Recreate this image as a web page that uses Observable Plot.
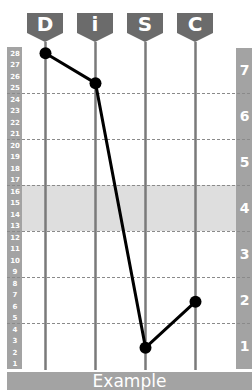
<!DOCTYPE html>
<html><head><meta charset="utf-8">
<script src="https://cdn.jsdelivr.net/npm/d3@7"></script>
<script src="https://cdn.jsdelivr.net/npm/@observablehq/plot@0.6"></script>
<style>
body{margin:0;background:#fff;width:252px;overflow:hidden}
#footer{margin-left:7px;height:18px;background:#a3a3a3;color:#fff;font:17px "DejaVu Sans",sans-serif;text-align:center;line-height:18px;overflow:hidden}
</style></head><body>
<div id="chart"></div>
<div id="footer">Example</div>
<script>
const categories = ["D","i","S","C"];
const scores = [28, 25.4, 2.4, 6.4];
const levels = d3.range(1, 29);
const segmentLabels = [1,2,3,4,5,6,7];
const segmentCenters = [2.5, 6.5, 10.5, 14.5, 18.5, 22.5, 26.5];
const segmentBounds = [4.5, 8.5, 12.5, 16.5, 20.5, 24.5];
const highlight = [{y1: 12.5, y2: 16.5}];

const data = categories.map((c, i) => ({cat: c, v: scores[i]}));

const strips = (index, scales, values, dim) => {
  const g = d3.create("svg:g");
  const yTop = scales.y(28.5), yBot = scales.y(0.5);
  g.append("rect").attr("x", 7).attr("width", dim.marginLeft - 7)
    .attr("y", yTop).attr("height", yBot - yTop).attr("fill", "#a3a3a3");
  g.append("rect").attr("x", dim.width - dim.marginRight).attr("width", dim.marginRight)
    .attr("y", yTop + 1).attr("height", yBot - yTop - 1).attr("fill", "#a3a3a3");
  return g.node();
};

const tags = (index, scales, values, dim) => {
  const g = d3.create("svg:g");
  for (const c of categories) {
    const x = scales.x(c);
    g.append("path")
      .attr("d", `M${x-18},13 H${x+18} V33 L${x},42 L${x-18},33 Z`)
      .attr("fill", "#6b6b6b");
    g.append("text").attr("x", x).attr("y", 31)
      .attr("text-anchor", "middle").attr("fill", "#fff")
      .attr("font-family", "DejaVu Sans, sans-serif").attr("font-weight", "bold")
      .attr("font-size", 20).text(c);
  }
  return g.node();
};

const plot = Plot.plot({
  width: 252,
  height: 372,
  marginTop: 47,
  marginBottom: 3,
  marginLeft: 22,
  marginRight: 16,
  x: {type: "point", domain: categories, range: [45, 195], padding: 0, axis: null},
  y: {domain: [0.5, 28.5], axis: null},
  marks: [
    Plot.rect(highlight, {y1: "y1", y2: "y2", fill: "#dedede"}),
    strips,
    Plot.ruleX(categories, {stroke: "#7a7a7a", strokeWidth: 2.5, insetTop: -5, insetBottom: -1}),
    Plot.ruleY(segmentBounds, {stroke: "#8a8a8a", strokeWidth: 1, strokeDasharray: "3,2", insetLeft: -15, insetRight: -16}),
    Plot.text(levels, {y: d => d, text: d => d, frameAnchor: "left", dx: -7.5, textAnchor: "middle",
      fill: "#fff", fontSize: 7, fontWeight: "bold", fontFamily: "DejaVu Sans, sans-serif"}),
    Plot.text(segmentLabels, {y: (d, i) => segmentCenters[i], text: d => d, frameAnchor: "right", dx: 8, textAnchor: "middle",
      fill: "#fff", fontSize: 14, fontWeight: "bold", fontFamily: "DejaVu Sans, sans-serif"}),
    tags,
    Plot.line(data, {x: "cat", y: "v", stroke: "#000", strokeWidth: 3}),
    Plot.dot(data, {x: "cat", y: "v", r: 6, fill: "#000"})
  ]
});
document.getElementById("chart").append(plot);
</script>
</body></html>
